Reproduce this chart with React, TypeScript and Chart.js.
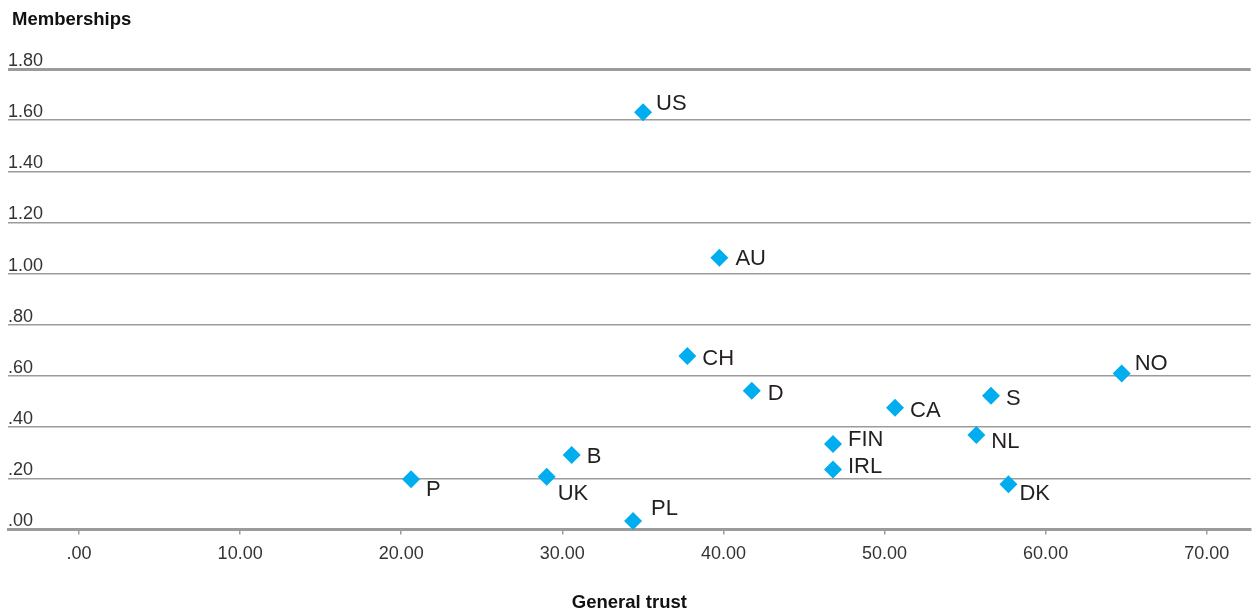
import React, { useEffect, useRef } from "react";
import { Chart, registerables } from "chart.js";

Chart.register(...registerables);

const countries = ["US", "AU", "CH", "D", "CA", "S", "NO", "FIN", "NL", "IRL", "DK", "B", "UK", "P", "PL"];
const generalTrust = [35.01, 39.75, 37.76, 41.76, 50.65, 56.61, 64.72, 46.8, 55.7, 46.8, 57.69, 30.58, 29.03, 20.61, 34.39];
const memberships = [1.631, 1.062, 0.678, 0.542, 0.476, 0.523, 0.61, 0.334, 0.369, 0.235, 0.177, 0.291, 0.206, 0.196, 0.033];
// label offsets (px) relative to each marker
const labelDx = [13, 16, 15, 16, 15, 15, 13, 15, 15, 15, 11, 15, 11, 15, 18];
const labelDy = [-8, 1, 3, 3, 3, 3, -10, -4, 7, -2, 10, 2, 17, 11, -12];

const xTicks = [0, 10, 20, 30, 40, 50, 60, 70];
const yTicks = [0, 0.2, 0.4, 0.6, 0.8, 1.0, 1.2, 1.4, 1.6, 1.8];

const FONT = "'Liberation Sans', Arial, Helvetica, sans-serif";
const GRID = "#9b9b9b";

const fmt = (v: number) => {
  const s = v.toFixed(2);
  return s.startsWith("0") ? s.slice(1) : s;
};

const labelPlugin = {
  id: "pointLabels",
  afterDatasetsDraw(chart: any) {
    const ctx = chart.ctx;
    const meta = chart.getDatasetMeta(0);
    ctx.save();
    ctx.font = `22px ${FONT}`;
    ctx.fillStyle = "#231f20";
    ctx.textAlign = "left";
    ctx.textBaseline = "middle";
    meta.data.forEach((pt: any, i: number) => {
      ctx.fillText(countries[i], pt.x + labelDx[i], pt.y + labelDy[i]);
    });
    ctx.restore();
  },
};

const yTitlePlugin = {
  id: "yTitle",
  afterDraw(chart: any) {
    const ctx = chart.ctx;
    ctx.save();
    ctx.font = `bold 18.5px ${FONT}`;
    ctx.fillStyle = "#111";
    ctx.textAlign = "left";
    ctx.textBaseline = "alphabetic";
    ctx.fillText("Memberships", 12, 25);
    ctx.restore();
  },
};

export default function App() {
  const ref = useRef<HTMLCanvasElement>(null);
  useEffect(() => {
    if (!ref.current) return;
    const chart = new Chart(ref.current, {
      type: "scatter",
      data: {
        datasets: [
          {
            data: generalTrust.map((x, i) => ({ x, y: memberships[i] })),
            backgroundColor: "#00aeef",
            borderColor: "#00aeef",
            pointStyle: "rectRot",
            pointRadius: 9,
            pointHoverRadius: 9,
            borderWidth: 0,
            clip: false,
          },
        ],
      },
      options: {
        animation: false,
        responsive: true,
        maintainAspectRatio: false,
        layout: { autoPadding: false, padding: { left: 8, right: 5.3, top: 69, bottom: 0 } },
        plugins: { legend: { display: false }, tooltip: { enabled: false } },
        scales: {
          x: {
            type: "linear",
            min: -4.41,
            max: 72.73,
            afterBuildTicks: (s: any) => {
              s.ticks = xTicks.map((v) => ({ value: v }));
            },
            afterFit: (s: any) => {
              s.height = 84.5;
              s.paddingLeft = 0;
              s.paddingRight = 0;
            },
            grid: {
              drawOnChartArea: false,
              drawTicks: true,
              tickLength: 5,
              color: GRID,
              lineWidth: 1.5,
            },
            border: { display: true, color: GRID, width: 3 },
            ticks: {
              padding: 9,
              color: "#333",
              font: { family: FONT, size: 18 },
              maxRotation: 0,
              autoSkip: false,
              callback: (v: any) => fmt(Number(v)),
            },
            title: {
              display: true,
              text: "General trust",
              color: "#111",
              font: { family: FONT, size: 18.5, weight: "bold" },
              padding: { top: 0, bottom: 0 },
            },
          },
          y: {
            type: "linear",
            min: 0,
            max: 1.8,
            afterBuildTicks: (s: any) => {
              s.ticks = yTicks.map((v) => ({ value: v }));
            },
            afterFit: (s: any) => {
              s.width = 0;
              s.paddingTop = 0;
              s.paddingBottom = 0;
            },
            grid: {
              drawTicks: false,
              color: GRID,
              lineWidth: (c: any) => (c.tick && (c.tick.value === 1.8 || c.tick.value === 0) ? 3 : 1.5),
            },
            border: { display: false },
            ticks: {
              mirror: true,
              padding: 0,
              labelOffset: -8,
              color: "#333",
              font: { family: FONT, size: 18 },
              autoSkip: false,
              callback: (v: any) => fmt(Number(v)),
            },
          },
        },
      },
      plugins: [labelPlugin, yTitlePlugin],
    });
    return () => chart.destroy();
  }, []);
  return (
    <div style={{ position: "fixed", left: 0, top: 0, width: 1256, height: 614, background: "#fff" }}>
      <canvas ref={ref} />
    </div>
  );
}
